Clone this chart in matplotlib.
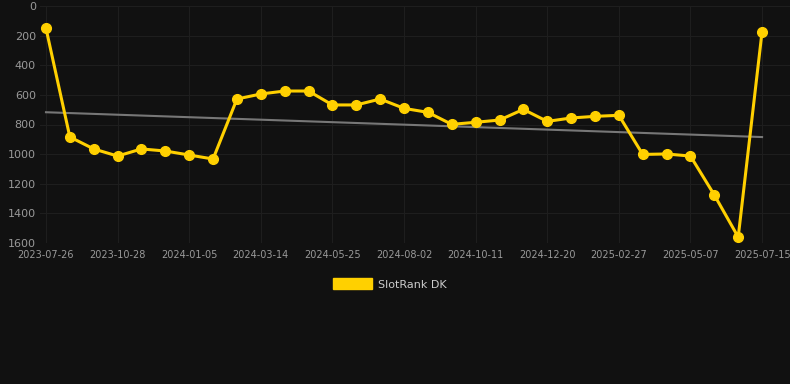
import numpy as np
from matplotlib import pyplot as plt
from matplotlib.patches import Rectangle

# rank values (lower is better), one per snapshot
ranks = [150, 884, 965, 1013, 965, 979, 1006, 1033, 628, 594, 574, 574,
         668, 668, 628, 691, 718, 799, 785, 770, 698, 779, 756, 745, 738,
         1002, 999, 1013, 1276, 1560, 173]
tick_labels = ['2023-07-26', '2023-10-28', '2024-01-05', '2024-03-14',
               '2024-05-25', '2024-08-02', '2024-10-11', '2024-12-20',
               '2025-02-27', '2025-05-07', '2025-07-15']
series_name = 'SlotRank DK'

bg = '#111111'
yellow = '#ffd000'

x = np.arange(len(ranks))
slope, icpt = np.polyfit(x, ranks, 1)
trend = slope * x + icpt

fig = plt.figure(figsize=(7.9, 3.84), dpi=100, facecolor=bg)
ax = fig.add_axes([40 / 790, 1 - 243 / 384, 750 / 790, 237 / 384])
ax.set_facecolor(bg)

ax.plot(x, trend, color='#777777', linewidth=1.5, zorder=2)
ax.plot(x, ranks, color=yellow, linewidth=2.2, marker='o', markersize=7,
        zorder=3)

ax.set_xlim(-0.25, 31.17)
ax.set_ylim(1600, 0)
ax.set_yticks(range(0, 1601, 200))
ax.set_xticks(x[::3])
ax.set_xticklabels(tick_labels)
ax.grid(True, color='#1e1e1e', linewidth=0.8)
ax.set_axisbelow(True)
ax.tick_params(axis='y', labelcolor='#999999', labelsize=8, length=0, pad=3)
ax.tick_params(axis='x', labelcolor='#999999', labelsize=7, length=0, pad=5)
for s in ax.spines.values():
    s.set_visible(False)

handle = Rectangle((0, 0), 1, 1, facecolor=yellow, edgecolor=yellow)
leg = fig.legend([handle], [series_name], loc='center',
                 bbox_to_anchor=(390 / 790, 1 - 284 / 384), frameon=False,
                 fontsize=8, handlelength=3.5, handleheight=1.1,
                 handletextpad=0.5)
for t in leg.get_texts():
    t.set_color('#cccccc')

plt.savefig('out.png', dpi=100, facecolor=bg)
